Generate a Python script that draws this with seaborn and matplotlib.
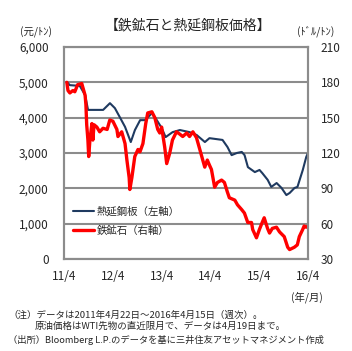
import seaborn as sns
import matplotlib.pyplot as plt
import pandas as pd

# 熱延鋼板（元/トン、左軸）
steel_dates = ['2011-04-22', '2011-05-15', '2011-07-28', '2011-09-06', '2011-09-28',
               '2011-11-19', '2012-01-19', '2012-03-10', '2012-04-16', '2012-05-22',
               '2012-07-01', '2012-08-13', '2012-09-13', '2012-10-22', '2012-11-28',
               '2013-01-19', '2013-02-24', '2013-04-01', '2013-05-01', '2013-06-22',
               '2013-08-16', '2013-10-28', '2013-12-19', '2014-02-19', '2014-03-25',
               '2014-07-01', '2014-08-07', '2014-09-07', '2014-10-16', '2014-11-22',
               '2014-12-13', '2015-01-07', '2015-02-28', '2015-04-04', '2015-04-25',
               '2015-06-04', '2015-07-01', '2015-08-10', '2015-09-16', '2015-10-22',
               '2015-11-16', '2015-12-22', '2016-01-13', '2016-02-22', '2016-03-19',
               '2016-04-01']
steel_values = [5010, 4920, 4900, 4640, 4220,
                4220, 4220, 4410, 4270, 4020,
                3740, 3310, 3650, 3930, 3930,
                4130, 3930, 3710, 3450, 3590,
                3650, 3590, 3510, 3310, 3420,
                3370, 3170, 2940, 3000, 3030,
                2940, 2600, 2460, 2520, 2430,
                2240, 2040, 2150, 2010, 1810,
                1870, 2010, 2040, 2520, 2890,
                3000]

# 鉄鉱石（ドル/トン、右軸）
ore_dates = ['2011-04-22', '2011-05-01', '2011-05-15', '2011-06-06', '2011-06-21',
             '2011-07-12', '2011-08-12', '2011-09-06', '2011-09-12', '2011-09-18',
             '2011-09-27', '2011-10-03', '2011-10-12', '2011-10-27', '2011-11-03',
             '2011-11-12', '2011-12-03', '2011-12-24', '2012-01-18', '2012-02-18',
             '2012-03-09', '2012-04-01', '2012-05-01', '2012-05-09', '2012-06-06',
             '2012-07-01', '2012-07-15', '2012-08-01', '2012-08-06', '2012-08-21',
             '2012-09-12', '2012-10-06', '2012-10-21', '2012-11-12', '2012-12-03',
             '2012-12-18', '2013-01-18', '2013-02-09', '2013-03-03', '2013-03-18',
             '2013-04-01', '2013-04-24', '2013-05-09', '2013-06-01', '2013-06-21',
             '2013-07-21', '2013-08-15', '2013-09-06', '2013-10-06', '2013-10-27',
             '2013-11-21', '2013-12-18', '2014-01-12', '2014-02-03', '2014-02-18',
             '2014-03-09', '2014-03-24', '2014-04-09', '2014-05-03', '2014-05-24',
             '2014-06-24', '2014-07-15', '2014-08-06', '2014-08-21', '2014-10-01',
             '2014-10-21', '2014-11-21', '2014-12-12', '2015-01-06', '2015-02-03',
             '2015-02-12', '2015-03-12', '2015-04-03', '2015-04-24', '2015-05-09',
             '2015-06-03', '2015-06-18', '2015-07-09', '2015-08-09', '2015-09-01',
             '2015-10-06', '2015-11-01', '2015-11-15', '2015-12-21', '2016-01-12',
             '2016-01-27', '2016-02-21', '2016-03-03', '2016-03-18', '2016-04-01']
ore_values = [180, 173, 171, 173, 172,
              178, 179, 169, 161, 144,
              131, 117, 131, 145, 131,
              144, 142, 138, 141, 140,
              148, 147, 140, 134, 138,
              128, 114, 99, 89, 99,
              117, 123, 121, 128, 145,
              154, 155, 150, 140, 137,
              142, 125, 111, 120, 131,
              138, 136, 134, 137, 134,
              138, 133, 123, 114, 108,
              114, 110, 106, 91, 95,
              97, 95, 87, 82, 80,
              76, 72, 69, 61, 61,
              55, 48, 55, 61, 65,
              56, 52, 56, 57, 53,
              49, 40, 38, 40, 42,
              49, 55, 58, 57, 58]

x_ticks = ['2011-04-01', '2012-04-01', '2013-04-01', '2014-04-01', '2015-04-01', '2016-04-01']
x_tick_labels = ['11/4', '12/4', '13/4', '14/4', '15/4', '16/4']
left_ticks = [0, 1000, 2000, 3000, 4000, 5000, 6000]
right_ticks = [30, 60, 90, 120, 150, 180, 210]

sns.set_style('white')
plt.rcParams['font.family'] = ['Noto Sans CJK JP', 'DejaVu Sans']

df_steel = pd.DataFrame({'日付': pd.to_datetime(steel_dates), '熱延鋼板': steel_values})
df_ore = pd.DataFrame({'日付': pd.to_datetime(ore_dates), '鉄鉱石': ore_values})

grid_c = '#8c8c8c'
W, H = 352, 351
fig = plt.figure(figsize=(W / 100, H / 100), dpi=100)
ax = fig.add_axes([64 / W, 1 - 259 / H, 244 / W, 212 / H])

sns.lineplot(data=df_steel, x='日付', y='熱延鋼板', color='#1f3a60', linewidth=1.5, ax=ax)
ax2 = ax.twinx()
sns.lineplot(data=df_ore, x='日付', y='鉄鉱石', color='#ff0000', linewidth=2.4, ax=ax2)

ax.set_xlim(pd.Timestamp('2011-04-01'), pd.Timestamp('2016-04-01'))
ax.set_ylim(0, 6000)
ax2.set_ylim(30, 210)
ax.set_yticks(left_ticks)
ax.set_yticklabels([f'{v:,}' for v in left_ticks])
ax2.set_yticks(right_ticks)
ax.set_xticks(pd.to_datetime(x_ticks))
ax.set_xticklabels(x_tick_labels)
for a in (ax, ax2):
    a.set_xlabel('')
    a.set_ylabel('')
    for s in a.spines.values():
        s.set_color(grid_c)
        s.set_linewidth(1.5)
ax.yaxis.grid(True, color=grid_c, linewidth=1.5)
ax.tick_params(axis='y', length=0, pad=11, labelsize=8.5)
ax2.tick_params(axis='y', length=0, pad=9, labelsize=8.5)
ax.tick_params(axis='x', direction='in', length=3, color=grid_c, width=1.2, pad=8, labelsize=8.5)

ax.legend([ax.lines[0], ax2.lines[0]], ['熱延鋼板（左軸）', '鉄鉱石（右軸）'],
          loc='upper left', bbox_to_anchor=(0.01, 0.28), frameon=False, fontsize=7.5,
          handlelength=2.0, handletextpad=0.3, labelspacing=0.9, borderaxespad=0.2)

fig.text(188 / W, 1 - 25 / H, '【鉄鉱石と熱延鋼板価格】', ha='center', va='center', fontsize=10)
fig.text(36 / W, 1 - 32 / H, '(元/ﾄﾝ)', ha='center', va='center', fontsize=7.5)
fig.text(316 / W, 1 - 32 / H, '(ﾄﾞﾙ/ﾄﾝ)', ha='center', va='center', fontsize=7.5)
fig.text(307 / W, 1 - 297 / H, '(年/月)', ha='center', va='center', fontsize=7.5)
fig.text(8 / W, 1 - 315 / H, '（注）データは2011年4月22日～2016年4月15日（週次）。',
         ha='left', va='center', fontsize=6.8)
fig.text(35 / W, 1 - 326 / H, '原油価格はWTI先物の直近限月で、データは4月19日まで。',
         ha='left', va='center', fontsize=6.8)
fig.text(8 / W, 1 - 340 / H, '（出所）Bloomberg L.P.のデータを基に三井住友アセットマネジメント作成',
         ha='left', va='center', fontsize=6.7)

fig.savefig('out.png', dpi=100)
